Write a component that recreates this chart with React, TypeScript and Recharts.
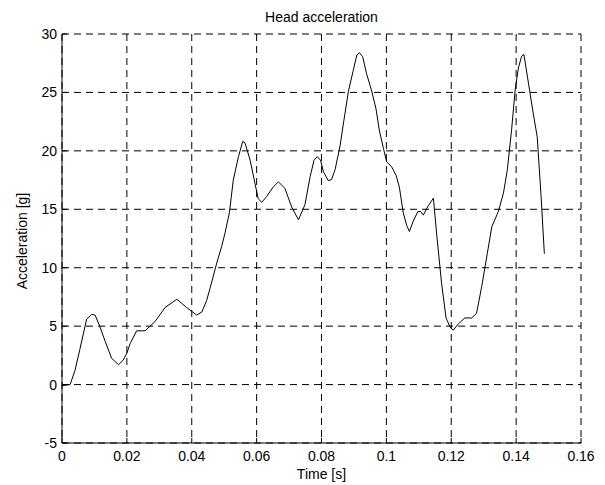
import { LineChart, Line, XAxis, YAxis, CartesianGrid } from "recharts";

/* ── Data ───────────────────────────────────────────── */
const TIME = [
	0.0, 0.0025, 0.004, 0.0055, 0.0076, 0.0091, 0.0102, 0.0117, 0.0133, 0.0153,
	0.0174, 0.0189, 0.02, 0.021, 0.023, 0.0256, 0.0287, 0.0318, 0.0354, 0.0384,
	0.0415, 0.0431, 0.0446, 0.0461, 0.0477, 0.0492, 0.0502, 0.0516, 0.0528,
	0.0544, 0.0557, 0.0564, 0.058, 0.0595, 0.0605, 0.0616, 0.0631, 0.0651,
	0.0667, 0.0687, 0.0708, 0.0729, 0.0749, 0.0765, 0.0777, 0.0787, 0.0797,
	0.0806, 0.0821, 0.0831, 0.0842, 0.0857, 0.0869, 0.0883, 0.0898, 0.0909,
	0.0917, 0.0927, 0.0939, 0.0955, 0.0968, 0.0978, 0.0991, 0.1001, 0.1016,
	0.103, 0.104, 0.1052, 0.1063, 0.1071, 0.1083, 0.1097, 0.1106, 0.1114,
	0.1129, 0.1145, 0.1155, 0.117, 0.1184, 0.1196, 0.1206, 0.1222, 0.1242,
	0.1263, 0.1278, 0.1294, 0.1311, 0.1325, 0.1345, 0.1361, 0.1373, 0.1386,
	0.1397, 0.1407, 0.1417, 0.1424, 0.1438, 0.1451, 0.1465, 0.1477, 0.1487,
];

const ACCEL = [
	-0.1, 0.0, 1.2, 3.0, 5.6, 6.0, 5.95, 4.95, 3.7, 2.25, 1.7, 2.1, 2.7, 3.5, 4.6,
	4.6, 5.4, 6.6, 7.3, 6.6, 5.95, 6.2, 7.2, 8.7, 10.4, 11.8, 12.9, 14.7, 17.5,
	19.5, 20.8, 20.7, 19.2, 17.2, 15.9, 15.6, 16.1, 16.9, 17.35, 16.8, 15.2, 14.1,
	15.4, 17.8, 19.2, 19.5, 19.2, 18.2, 17.45, 17.55, 18.4, 20.4, 22.6, 25.1,
	26.9, 28.2, 28.4, 28.05, 26.6, 25.1, 23.6, 21.8, 20.2, 19.05, 18.65, 17.9,
	16.9, 14.7, 13.6, 13.1, 14.0, 14.8, 14.8, 14.5, 15.3, 15.95, 12.9, 8.7, 5.7,
	4.95, 4.65, 5.2, 5.7, 5.7, 6.1, 8.4, 11.2, 13.5, 14.8, 16.4, 18.4, 21.8,
	25.2, 27.1, 28.1, 28.25, 25.8, 23.5, 21.2, 16.1, 11.2,
];

const X_TICKS = [0, 0.02, 0.04, 0.06, 0.08, 0.1, 0.12, 0.14, 0.16];
const Y_TICKS = [-5, 0, 5, 10, 15, 20, 25, 30];

const FONT = '"Liberation Sans", Arial, Helvetica, sans-serif';
const tickStyle = { fill: "#000", fontSize: 14, fontFamily: FONT };

export default function App() {
	const data = TIME.map((t, i) => ({ t, a: ACCEL[i] }));

	return (
		<div
			style={{
				position: "absolute",
				left: 0,
				top: 0,
				width: 605,
				height: 485,
				background: "#fff",
				fontFamily: FONT,
				color: "#000",
			}}
		>
			<LineChart
				width={605}
				height={485}
				data={data}
				margin={{ top: 34, right: 24, bottom: 0, left: 0 }}
			>
				<CartesianGrid stroke="#000" strokeDasharray="7 5" />
				<XAxis
					dataKey="t"
					type="number"
					domain={[0, 0.16]}
					ticks={X_TICKS}
					height={42}
					tickSize={-5}
					tickMargin={13}
					stroke="#000"
					tick={tickStyle}
					allowDataOverflow
				/>
				<XAxis
					xAxisId="top"
					orientation="top"
					dataKey="t"
					type="number"
					domain={[0, 0.16]}
					ticks={X_TICKS}
					height={0}
					tickSize={-5}
					tick={false}
					stroke="#000"
				/>
				<YAxis
					type="number"
					domain={[-5, 30]}
					ticks={Y_TICKS}
					width={62}
					tickSize={-5}
					tickMargin={10}
					stroke="#000"
					tick={tickStyle}
					allowDataOverflow
				/>
				<YAxis
					yAxisId="right"
					orientation="right"
					type="number"
					domain={[-5, 30]}
					ticks={Y_TICKS}
					width={0}
					tickSize={-5}
					tick={false}
					stroke="#000"
				/>
				<Line
					type="linear"
					dataKey="a"
					stroke="#000"
					strokeWidth={1}
					dot={false}
					activeDot={false}
					isAnimationActive={false}
				/>
			</LineChart>

			{/* titles */}
			<div
				style={{
					position: "absolute",
					left: 62,
					width: 519,
					top: 9,
					textAlign: "center",
					fontSize: 14,
					lineHeight: "16px",
				}}
			>
				Head acceleration
			</div>
			<div
				style={{
					position: "absolute",
					left: 62,
					width: 519,
					top: 466,
					textAlign: "center",
					fontSize: 14,
					lineHeight: "16px",
				}}
			>
				Time [s]
			</div>
			<div
				style={{
					position: "absolute",
					left: 22,
					top: 241,
					transform: "translate(-50%, -50%) rotate(-90deg)",
					whiteSpace: "nowrap",
					fontSize: 14,
					lineHeight: "16px",
				}}
			>
				Acceleration [g]
			</div>
		</div>
	);
}
